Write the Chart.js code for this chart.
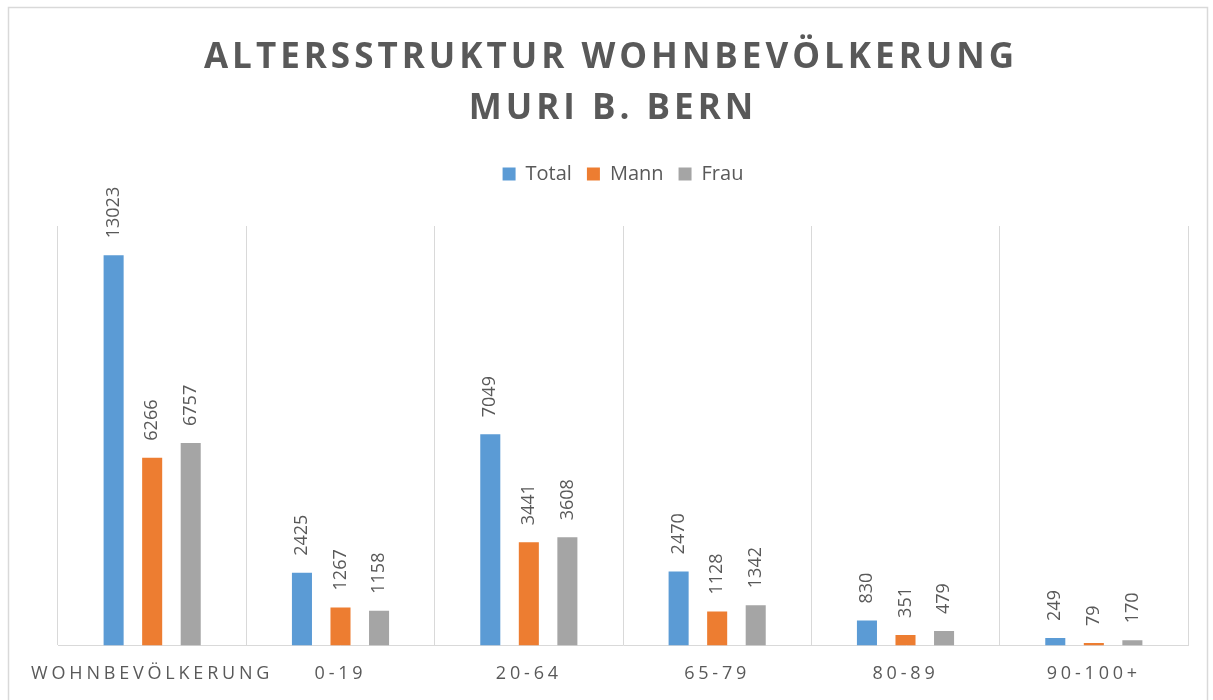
<!DOCTYPE html>
<html>
<head>
<meta charset="utf-8">
<script src="https://cdn.jsdelivr.net/npm/chart.js@4"></script>
<style>
  html, body { margin: 0; padding: 0; background: #ffffff; }
  #c { display: block; }
</style>
</head>
<body>
<canvas id="c" width="1213" height="700"></canvas>
<script>
const titleLines = ['ALTERSSTRUKTUR WOHNBEVÖLKERUNG', 'MURI B. BERN'];
const categories = ['WOHNBEVÖLKERUNG', '0-19', '20-64', '65-79', '80-89', '90-100+'];
const seriesNames = ['Total', 'Mann', 'Frau'];
const totalValues = [13023, 2425, 7049, 2470, 830, 249];
const mannValues = [6266, 1267, 3441, 1128, 351, 79];
const frauValues = [6757, 1158, 3608, 1342, 479, 170];
const seriesColors = ['#5B9BD5', '#ED7D31', '#A5A5A5'];

const textColor = '#595959';
const gridColor = '#D9D9D9';

const framePlugin = {
  id: 'frame',
  beforeLayout(chart) {
    const lg = chart.legend;
    if (lg && !lg._patched) {
      const orig = lg.fit.bind(lg);
      lg.fit = function () { orig(); this.height += 32; };
      lg._patched = true;
    }
  },
  beforeDraw(chart) {
    const ctx = chart.ctx;
    ctx.save();
    ctx.letterSpacing = '0px';
    ctx.fillStyle = '#ffffff';
    ctx.fillRect(0, 0, chart.width, chart.height);
    ctx.strokeStyle = gridColor;
    ctx.lineWidth = 1.5;
    ctx.strokeRect(8.5, 7.5, 1199, 760);
    ctx.restore();
    ctx.letterSpacing = '0px';
  },
  afterDatasetsDraw(chart) {
    const ctx = chart.ctx;
    ctx.save();
    ctx.letterSpacing = '0px';
    ctx.font = '18px "Open Sans"';
    ctx.fillStyle = textColor;
    ctx.textAlign = 'left';
    ctx.textBaseline = 'middle';
    chart.data.datasets.forEach((ds, di) => {
      const meta = chart.getDatasetMeta(di);
      meta.data.forEach((bar, i) => {
        ctx.save();
        ctx.translate(bar.x, bar.y - 17);
        ctx.rotate(-Math.PI / 2);
        ctx.fillText(String(ds.data[i]), 0, 0);
        ctx.restore();
      });
    });
    ctx.restore();
    // letter spacing for the x tick labels drawn after datasets (ticks.z = 1)
    ctx.letterSpacing = '3.8px';
  },
  afterDraw(chart) {
    const ctx = chart.ctx;
    ctx.letterSpacing = '0px';
    ctx.save();
    ctx.font = 'bold 35px "Open Sans"';
    ctx.letterSpacing = '4px';
    ctx.fillStyle = textColor;
    ctx.textAlign = 'center';
    ctx.textBaseline = 'alphabetic';
    ctx.fillText(titleLines[0], 611, 68);
    ctx.fillText(titleLines[1], 613, 119);
    ctx.restore();
    ctx.letterSpacing = '0px';
  }
};

const valueSets = [totalValues, mannValues, frauValues];

new Chart(document.getElementById('c'), {
  type: 'bar',
  data: {
    labels: categories,
    datasets: seriesNames.map((name, i) => ({
      label: name,
      data: valueSets[i],
      backgroundColor: seriesColors[i],
      borderWidth: 0,
      categoryPercentage: 0.614,
      barPercentage: 0.52
    }))
  },
  options: {
    responsive: false,
    animation: false,
    devicePixelRatio: 1,
    layout: { padding: { top: 149, left: 58, right: 25, bottom: -3 } },
    plugins: {
      title: { display: false },
      tooltip: { enabled: false },
      legend: {
        display: true,
        position: 'top',
        labels: {
          boxWidth: 13,
          boxHeight: 13,
          padding: 15,
          color: textColor,
          font: { family: '"Open Sans"', size: 20 }
        }
      }
    },
    scales: {
      x: {
        grid: { display: true, color: gridColor, drawTicks: false, offset: true, lineWidth: 1 },
        border: { display: true, color: gridColor, width: 1 },
        ticks: {
          color: textColor,
          font: { family: '"Open Sans"', size: 18 },
          padding: 18,
          z: 1,
          maxRotation: 0,
          autoSkip: false
        }
      },
      y: {
        display: false,
        min: 0,
        max: 14000,
        grid: { display: false }
      }
    }
  },
  plugins: [framePlugin]
});
</script>
</body>
</html>
